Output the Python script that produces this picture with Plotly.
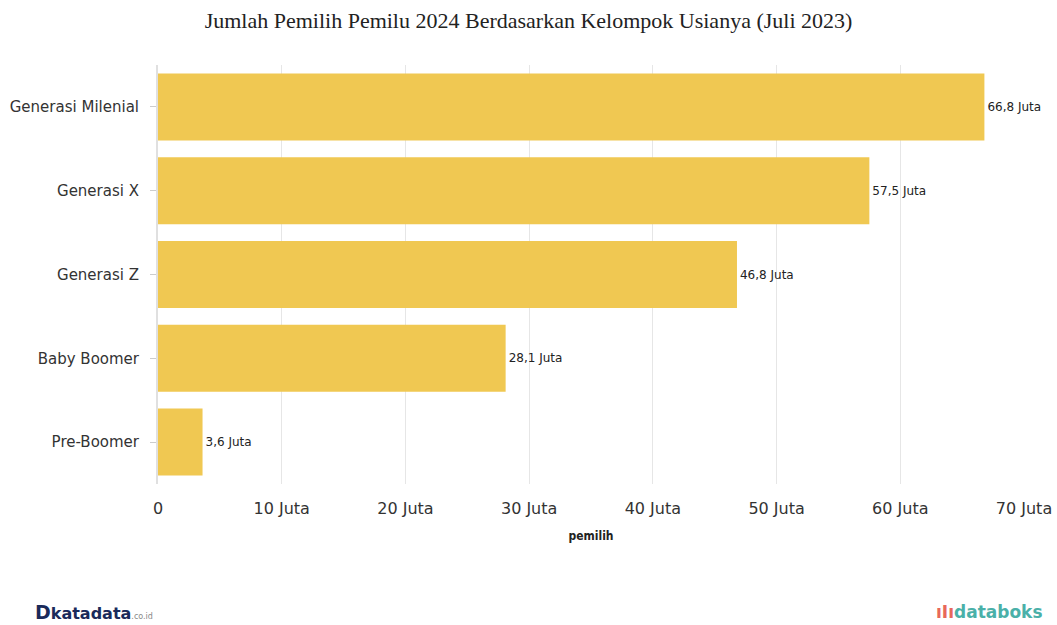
import plotly.graph_objects as go

categories = ["Generasi Milenial", "Generasi X", "Generasi Z", "Baby Boomer", "Pre-Boomer"]
values = [66.8, 57.5, 46.8, 28.1, 3.6]
labels = ["66,8 Juta", "57,5 Juta", "46,8 Juta", "28,1 Juta", "3,6 Juta"]
tick_vals = [0, 10, 20, 30, 40, 50, 60, 70]
tick_text = ["0", "10 Juta", "20 Juta", "30 Juta", "40 Juta", "50 Juta", "60 Juta", "70 Juta"]

fig = go.Figure(go.Bar(
    y=categories, x=values, orientation="h",
    marker=dict(color="#F0C852", line=dict(width=0)),
    text=labels, textposition="outside", cliponaxis=False,
    textfont=dict(family="DejaVu Sans, Verdana", size=12, color="#222"),
))

fig.update_layout(
    width=1057, height=625,
    paper_bgcolor="white", plot_bgcolor="white",
    margin=dict(l=158, r=33, t=65, b=141),
    bargap=0.2,
    showlegend=False,
    title=dict(text="Jumlah Pemilih Pemilu 2024 Berdasarkan Kelompok Usianya (Juli 2023)",
               x=0.5, xanchor="center", y=0.968, yanchor="middle",
               font=dict(family="Liberation Serif, Times New Roman", size=22, color="#222")),
    xaxis=dict(range=[0, 70], tickvals=tick_vals, ticktext=tick_text, automargin=False,
               showgrid=True, gridcolor="#E6E6E6", gridwidth=1, zeroline=False,
               tickfont=dict(family="DejaVu Sans, Verdana", size=16, color="#333"),
               ticks="", ticklabelstandoff=13,
               title=dict(text="<b>pemilih</b>", standoff=14,
                          font=dict(family="DejaVu Sans Condensed, DejaVu Sans", size=12, color="#222"))),
    yaxis=dict(categoryorder="array", categoryarray=categories[::-1], automargin=False,
               showline=True, linecolor="#E0E0E0", linewidth=2,
               ticks="outside", ticklen=6, tickcolor="#CCCCCC",
               tickfont=dict(family="DejaVu Sans, Verdana", size=15, color="#333"),
               ticklabelstandoff=8, showgrid=False),
)

fig.add_annotation(xref="paper", yref="paper", x=-0.144, y=-0.305, xanchor="left", yanchor="middle",
                   text="<b><span style='font-size:19px'>D</span></b><b>katadata</b><span style='font-size:8px;color:#888'>.co.id</span>",
                   showarrow=False, font=dict(family="DejaVu Sans, Arial", size=16, color="#1a2a5a"))
fig.add_annotation(xref="paper", yref="paper", x=1.024, y=-0.305, xanchor="right", yanchor="middle",
                   text="<span style='color:#E8685A'><b>ıIı</b></span><b>databoks</b>",
                   showarrow=False, font=dict(family="DejaVu Sans, Arial", size=17, color="#4AB0A8"))

fig.write_html("out.html")
